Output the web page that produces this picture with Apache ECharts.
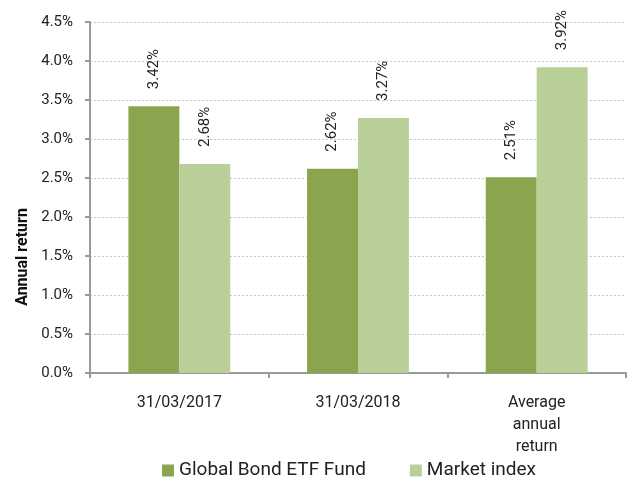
<!DOCTYPE html>
<html>
<head>
<meta charset="utf-8">
<script src="https://cdn.jsdelivr.net/npm/echarts@6/dist/echarts.min.js"></script>
<style>
    html, body { margin: 0; padding: 0; background: #fff; }
    #returnChart { width: 628px; height: 479px; }
</style>
</head>
<body>
<div id="returnChart"></div>
<script>
var categoryList = ['31/03/2017', '31/03/2018', 'Average\nannual\nreturn'];
var seriesNames = ['Global Bond ETF Fund', 'Market index'];
var fundReturnList = [3.42, 2.62, 2.51];
var indexReturnList = [2.68, 3.27, 3.92];
var yAxisName = 'Annual return';

var returnChart = echarts.init(document.getElementById('returnChart'), null, {renderer: 'canvas'});

function barLabel() {
    return {
        show: true,
        position: 'top',
        rotate: 90,
        align: 'left',
        verticalAlign: 'middle',
        distance: 17,
        fontFamily: 'Roboto',
        fontSize: 15,
        color: '#222',
        formatter: function (p) {
            return p.value.toFixed(2) + '%';
        }
    };
}

returnChart.setOption({
    backgroundColor: '#fff',
    animation: false,
    textStyle: {
        fontFamily: 'Roboto'
    },
    grid: {
        left: 90,
        right: 2,
        top: 22,
        bottom: 106
    },
    legend: {
        data: seriesNames,
        left: 157,
        top: 456,
        icon: 'rect',
        itemWidth: 12,
        itemHeight: 12,
        itemGap: 44,
        textStyle: {
            fontFamily: 'Roboto',
            fontSize: 19,
            color: '#222'
        }
    },
    graphic: [{
        type: 'text',
        x: 23,
        y: 257,
        rotation: Math.PI / 2,
        style: {
            text: yAxisName,
            fontFamily: 'Roboto',
            fontSize: 16,
            fontWeight: 'bold',
            fill: '#111',
            align: 'center',
            verticalAlign: 'middle'
        }
    }],
    xAxis: {
        type: 'category',
        data: categoryList,
        axisLine: {
            lineStyle: { color: '#9a9a9a', width: 2 }
        },
        axisTick: {
            show: true,
            length: 5,
            lineStyle: { color: '#9a9a9a', width: 2 }
        },
        axisLabel: {
            margin: 19,
            fontSize: 16,
            lineHeight: 22,
            color: '#222',
            interval: 0
        }
    },
    yAxis: {
        type: 'value',
        min: 0,
        max: 4.5,
        interval: 0.5,
        axisLine: {
            show: true,
            lineStyle: { color: '#9a9a9a', width: 2 }
        },
        axisTick: {
            show: true,
            length: 5,
            lineStyle: { color: '#9a9a9a', width: 2 }
        },
        axisLabel: {
            margin: 17,
            fontSize: 15,
            color: '#222',
            formatter: function (v) {
                return v.toFixed(1) + '%';
            }
        },
        splitLine: {
            show: true,
            lineStyle: { color: '#c8c8c8', type: [2, 2], width: 1 }
        }
    },
    series: [{
        name: seriesNames[0],
        type: 'bar',
        data: fundReturnList,
        barGap: '0%',
        barCategoryGap: '43%',
        itemStyle: { color: '#8aa54e' },
        label: barLabel()
    }, {
        name: seriesNames[1],
        type: 'bar',
        data: indexReturnList,
        barGap: '0%',
        barCategoryGap: '43%',
        itemStyle: { color: '#b9cf98' },
        label: barLabel()
    }]
});
</script>
</body>
</html>
